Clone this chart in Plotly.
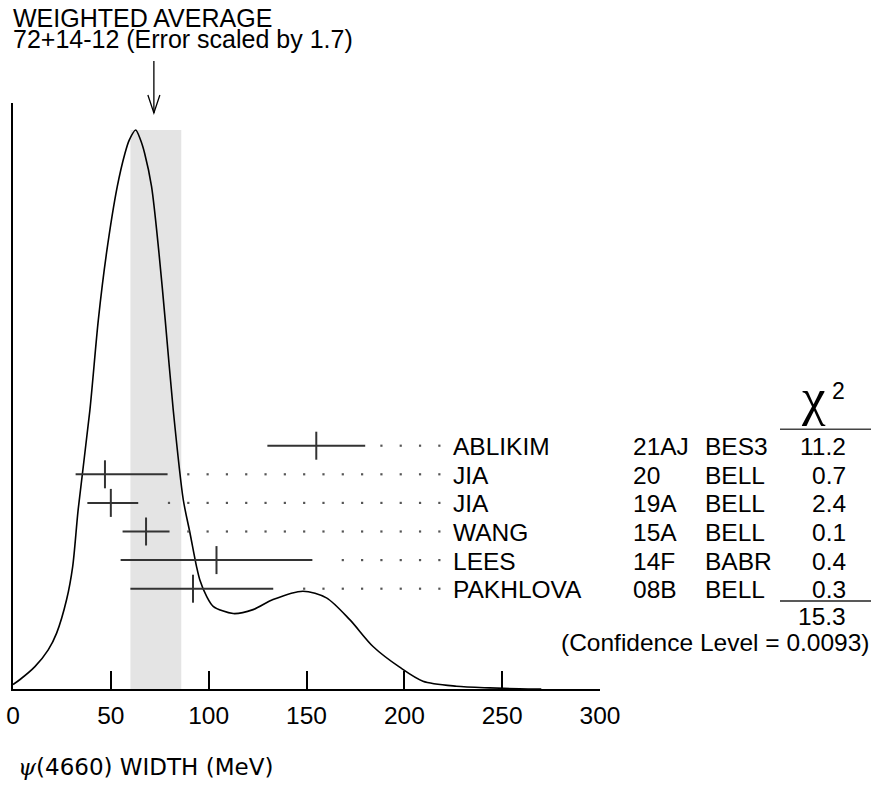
import plotly.graph_objects as go

# ---------------- data ----------------
names = ["ABLIKIM", "JIA", "JIA", "WANG", "LEES", "PAKHLOVA"]
codes = ["21AJ", "20", "19A", "15A", "14F", "08B"]
experiments = ["BES3", "BELL", "BELL", "BELL", "BABR", "BELL"]
values = [155, 47, 50, 68, 104, 92]
err_plus = [25, 32, 14, 12, 49, 41]
err_minus = [25, 15, 12, 12, 49, 32]
chi2 = [11.2, 0.7, 2.4, 0.1, 0.4, 0.3]
chi2_total = 15.3
conf_level = 0.0093

avg_value = 72
avg_err_plus = 14
avg_err_minus = 12
error_scale = 1.7

# ideogram curve (MeV, relative height)
curve_x = [0, 3.6, 11.2, 18.0, 22.3, 27.4, 30.5, 33.3, 39.3, 43.6, 47.8, 53.3,
           57.2, 59.4, 62.7, 65.2, 67.3, 70.8, 74.6, 77.8, 81.9, 87.0, 90.4,
           93.8, 95.5, 98.9, 102.3, 112.5, 122.7, 132.9, 148.2, 160.2, 172.1,
           184.0, 197.6, 209.5, 226.6, 243.6, 258.9, 270.0]
curve_y = [0.008, 0.017, 0.040, 0.070, 0.100, 0.160, 0.219, 0.321, 0.499, 0.660,
           0.780, 0.899, 0.958, 0.982, 1.000, 0.982, 0.958, 0.899, 0.780, 0.660,
           0.499, 0.339, 0.280, 0.219, 0.195, 0.166, 0.148, 0.135, 0.142, 0.160,
           0.175, 0.163, 0.124, 0.076, 0.039, 0.014, 0.005, 0.002, 0.0005, 0.0]

tick_values = [0, 50, 100, 150, 200, 250, 300]
x_title = "WIDTH (MeV)"
particle = "(4660)"

# ---------------- layout helpers ----------------
W, H = 872, 788
PL, PR, PB, PT = 13, 600, 689, 103   # plot-area pixel edges
PEAK_PX = 130


def px_x(px):
    return (px - PL) / (PR - PL)


def px_y(py):
    return (PB - py) / PB


FONT = "Liberation Sans, Arial, Helvetica, sans-serif"
FS = 24.5
INK = "#000000"
BAR = "#333333"

rows = list(range(len(names)))[::-1]
row_step = 28.6
row0_px = 588.7
y2_lo = -(PB - row0_px) / row_step
y2_hi = y2_lo + (PB - PT) / row_step
y_hi = (PB - PT) / (PB - PEAK_PX)

fig = go.Figure()

# ideogram curve
fig.add_trace(go.Scatter(
    x=curve_x, y=curve_y, mode="lines",
    line=dict(color=INK, width=1.6, shape="spline", smoothing=0.8),
    hoverinfo="skip", showlegend=False))

# dotted leader lines
DOT_LAST, DOT_STEP, MIN_GAP = 217.9, 9.87, 6.5
dx, dy = [], []
for v, ep, r in zip(values, err_plus, rows):
    end = v + ep
    k = 0
    while DOT_LAST - k * DOT_STEP > end + MIN_GAP:
        dx.append(DOT_LAST - k * DOT_STEP)
        dy.append(r)
        k += 1
fig.add_trace(go.Scatter(
    x=dx, y=dy, yaxis="y2", mode="markers",
    marker=dict(symbol="square", size=2.2, color="#555555"),
    hoverinfo="skip", showlegend=False))

# measurements with error bars
fig.add_trace(go.Scatter(
    x=values, y=rows, yaxis="y2", mode="markers",
    error_x=dict(type="data", symmetric=False, array=err_plus,
                 arrayminus=err_minus, width=0, thickness=2, color=BAR),
    marker=dict(symbol="line-ns", size=20, color=BAR,
                line=dict(width=2, color=BAR)),
    hoverinfo="skip", showlegend=False))

shapes = []
# weighted-average band
shapes.append(dict(type="rect", xref="x", yref="y",
                   x0=avg_value - avg_err_minus, x1=avg_value + avg_err_plus,
                   y0=0, y1=max(curve_y), fillcolor="#e4e4e4",
                   line=dict(width=0), layer="below"))
# arrow
tip, top, wing = px_y(113), px_y(61), px_y(95)
half = 6 / ((PR - PL) / 300)
shapes.append(dict(type="line", xref="x", yref="paper", x0=avg_value, x1=avg_value,
                   y0=tip, y1=top, line=dict(color=INK, width=1.3)))
shapes.append(dict(type="path", xref="x", yref="paper",
                   path=f"M {avg_value - half},{wing} L {avg_value},{tip} L {avg_value + half},{wing}",
                   line=dict(color=INK, width=1.3)))
# chi2 rules
shapes.append(dict(type="line", xref="paper", yref="paper", x0=px_x(780), x1=px_x(871),
                   y0=px_y(429.3), y1=px_y(429.3), line=dict(color="#444444", width=1.5)))
shapes.append(dict(type="line", xref="paper", yref="paper", x0=px_x(780), x1=px_x(871),
                   y0=px_y(601), y1=px_y(601), line=dict(color="#222222", width=1.5)))

ann = []


def text(x, y, s, xanchor="left", size=FS, yref="paper", family=FONT, yshift=0):
    ann.append(dict(x=x, y=y, xref="paper", yref=yref, text=s, showarrow=False,
                    xanchor=xanchor, yanchor="middle", yshift=yshift,
                    font=dict(family=family, size=size, color=INK)))


text(px_x(11), px_y(17.7), "WEIGHTED AVERAGE", size=25)
text(px_x(11), px_y(39.5),
     f"{avg_value}+{avg_err_plus}-{avg_err_minus} (Error scaled by {error_scale})", size=25)

for r, n, c, e, ch in zip(rows, names, codes, experiments, chi2):
    text(px_x(451), r, n, yref="y2", yshift=-1)
    text(px_x(631), r, c, yref="y2", yshift=-1)
    text(px_x(703), r, e, yref="y2", yshift=-1)
    text(px_x(848), r, f"{ch:.1f}", xanchor="right", yref="y2", yshift=-1)

text(px_x(848), px_y(616.7), f"{chi2_total:.1f}", xanchor="right")
text(px_x(872), px_y(642.7), f"(Confidence Level = {conf_level})", xanchor="right")
text(px_x(813), px_y(397), "χ", xanchor="center", size=53,
     family="Liberation Serif, Times New Roman, serif")
text(px_x(838), px_y(391), "2", xanchor="center", size=23)

text(px_x(16), px_y(767),
     "<span style='font-family:DejaVu Serif'><i>ψ</i></span>" + particle + " " + x_title,
     size=23, family="DejaVu Sans, sans-serif")

fig.update_layout(
    width=W, height=H,
    margin=dict(l=PL, r=W - PR, t=0, b=H - PB, pad=0),
    paper_bgcolor="white", plot_bgcolor="white",
    showlegend=False,
    shapes=shapes, annotations=ann,
    xaxis=dict(range=[0, 300], showgrid=False, zeroline=False,
               showline=True, linecolor=INK, linewidth=1.5,
               ticks="inside", ticklen=18, tickwidth=1.5, tickcolor=INK,
               tickvals=tick_values, ticktext=[str(t) for t in tick_values],
               tickfont=dict(family=FONT, size=FS, color=INK),
               ticklabelstandoff=4),
    yaxis=dict(domain=[0, (PB - PT) / PB], range=[0, y_hi], showgrid=False,
               zeroline=False, showline=True, linecolor=INK, linewidth=1.5,
               showticklabels=False, ticks=""),
    yaxis2=dict(overlaying="y", range=[y2_lo, y2_hi], visible=False),
)

fig.write_html("out.html", config={"displayModeBar": False},
               post_script="document.body.style.margin='0';document.body.style.padding='0';")
